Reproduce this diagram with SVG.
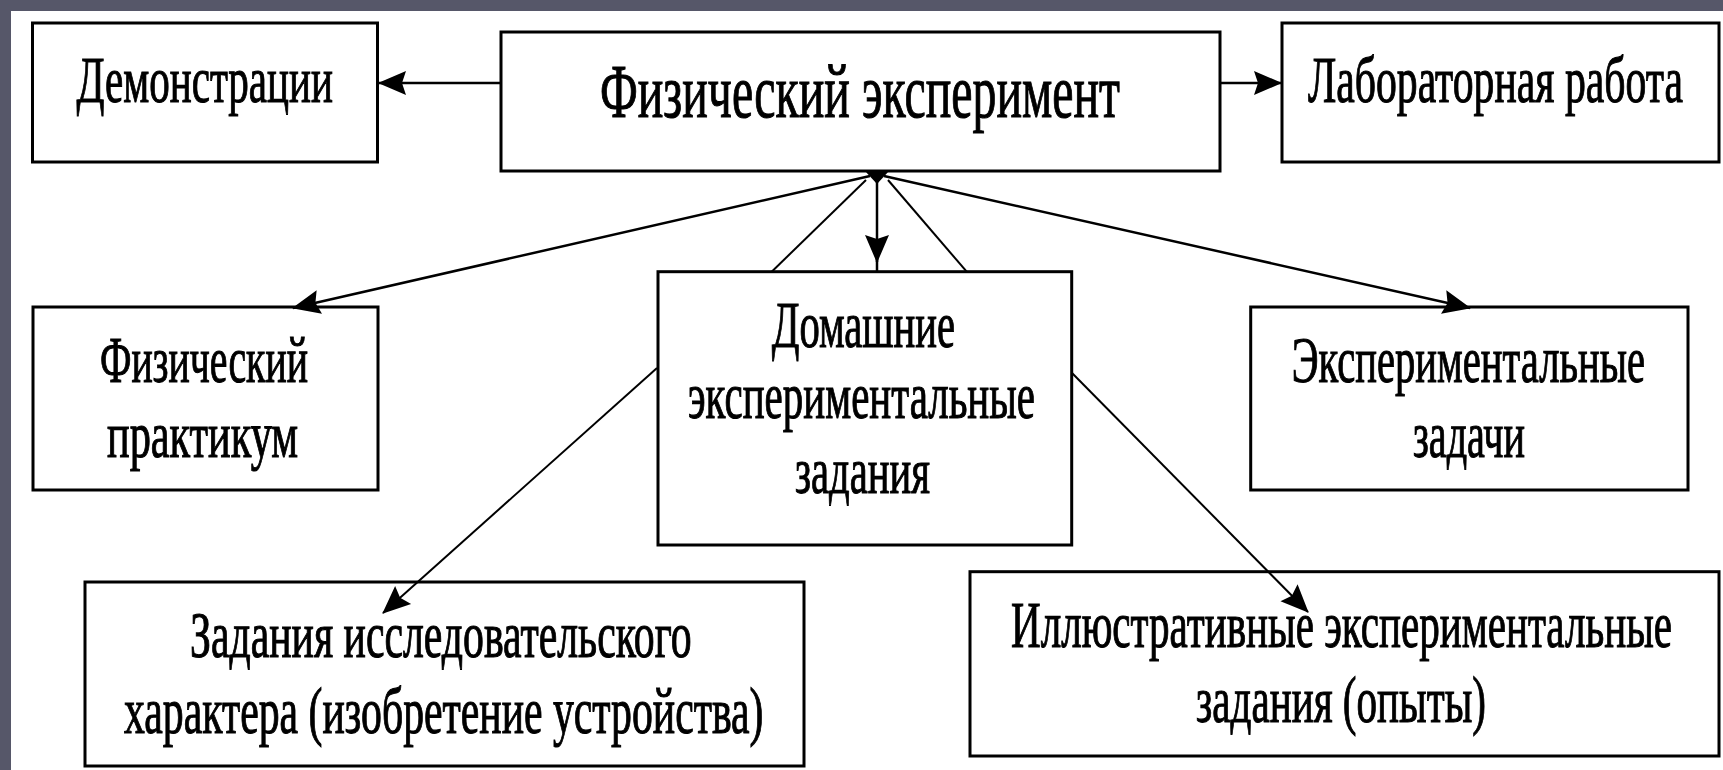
<svg xmlns="http://www.w3.org/2000/svg" width="1723" height="770" viewBox="0 0 1723 770">
<style>
.box{fill:#ffffff;stroke:#000000;stroke-width:3}
.t{font-family:"Liberation Serif","DejaVu Serif",serif;font-size:66px;fill:#000000;stroke:#000000;stroke-width:1.1}
.tm{font-size:76px}
.c{stroke:#000000;stroke-width:2.5;fill:none}
.cs{stroke:#000000;stroke-width:2;fill:none}
</style>
<defs>
<marker id="ah" markerUnits="userSpaceOnUse" viewBox="0 -13 28 26" refX="27" refY="0" markerWidth="28" markerHeight="26" orient="auto">
<path d="M0,-12 L28,0 L0,12 L4,0 Z" fill="#000000"/>
</marker>
</defs>
<rect x="0" y="0" width="1723" height="770" fill="#565769"/>
<rect x="11" y="11" width="1712" height="759" fill="#ffffff"/>

<g id="n-demo">
<rect class="box" x="32.5" y="23" width="345" height="139"/>
<text class="t" transform="translate(76.5,101.7) scale(0.63,1)" textLength="407.1" lengthAdjust="spacingAndGlyphs">Демонстрации</text>
</g>
<g id="n-main">
<rect class="box" x="501" y="32" width="719" height="139"/>
<text class="t tm" transform="translate(600,116.7) scale(0.63,1)" textLength="825.4" lengthAdjust="spacingAndGlyphs">Физический эксперимент</text>
</g>
<g id="n-lab">
<rect class="box" x="1282" y="23" width="437" height="139"/>
<text class="t" transform="translate(1308,101.7) scale(0.63,1)" textLength="595.2" lengthAdjust="spacingAndGlyphs">Лабораторная работа</text>
</g>
<g id="n-prakt">
<rect class="box" x="33" y="307" width="345" height="183"/>
<text class="t" transform="translate(100,381.7) scale(0.63,1)" textLength="330.2" lengthAdjust="spacingAndGlyphs">Физический</text>
<text class="t" transform="translate(107,456.7) scale(0.63,1)" textLength="303.2" lengthAdjust="spacingAndGlyphs">практикум</text>
</g>
<g id="n-home">
<rect class="box" x="658" y="271.7" width="413.7" height="273.3"/>
<text class="t" transform="translate(771.7,346.7) scale(0.63,1)" textLength="291" lengthAdjust="spacingAndGlyphs">Домашние</text>
<text class="t" transform="translate(688,418.3) scale(0.63,1)" textLength="550.8" lengthAdjust="spacingAndGlyphs">экспериментальные</text>
<text class="t" transform="translate(795,493.3) scale(0.63,1)" textLength="214.3" lengthAdjust="spacingAndGlyphs">задания</text>
</g>
<g id="n-tasks">
<rect class="box" x="1250.7" y="307" width="437.3" height="183"/>
<text class="t" transform="translate(1291.7,381.7) scale(0.63,1)" textLength="560.8" lengthAdjust="spacingAndGlyphs">Экспериментальные</text>
<text class="t" transform="translate(1413,456.7) scale(0.63,1)" textLength="177.8" lengthAdjust="spacingAndGlyphs">задачи</text>
</g>
<g id="n-research">
<rect class="box" x="85" y="582" width="719" height="184"/>
<text class="t" transform="translate(190,656.7) scale(0.63,1)" textLength="796.3" lengthAdjust="spacingAndGlyphs">Задания исследовательского</text>
<text class="t" transform="translate(124,733) scale(0.63,1)" textLength="1015.1" lengthAdjust="spacingAndGlyphs">характера (изобретение устройства)</text>
</g>
<g id="n-illus">
<rect class="box" x="970" y="571.7" width="749" height="184.3"/>
<text class="t" transform="translate(1011,646.7) scale(0.63,1)" textLength="1049.2" lengthAdjust="spacingAndGlyphs">Иллюстративные экспериментальные</text>
<text class="t" transform="translate(1196,721.7) scale(0.63,1)" textLength="460.3" lengthAdjust="spacingAndGlyphs">задания (опыты)</text>
</g>

<g id="connectors">
<line class="c" x1="501" y1="83" x2="379" y2="83" marker-end="url(#ah)"/>
<line class="c" x1="1220" y1="83" x2="1281" y2="83" marker-end="url(#ah)"/>
<polygon points="865,171 889,171 877,184" fill="#000000"/>
<line class="c" x1="870" y1="176" x2="293" y2="308" marker-end="url(#ah)"/>
<line class="c" x1="884" y1="176" x2="1470" y2="308" marker-end="url(#ah)"/>
<line class="c" x1="877" y1="180" x2="877" y2="262" marker-end="url(#ah)"/>
<line class="c" x1="877" y1="258" x2="877" y2="271.7"/>
<line class="cs" x1="866" y1="180" x2="771.7" y2="271.7"/>
<line class="cs" x1="888" y1="180" x2="966.7" y2="271.7"/>
<line class="cs" x1="657" y1="368" x2="383" y2="613" marker-end="url(#ah)"/>
<line class="cs" x1="1072" y1="373" x2="1308" y2="612" marker-end="url(#ah)"/>
</g>
</svg>
